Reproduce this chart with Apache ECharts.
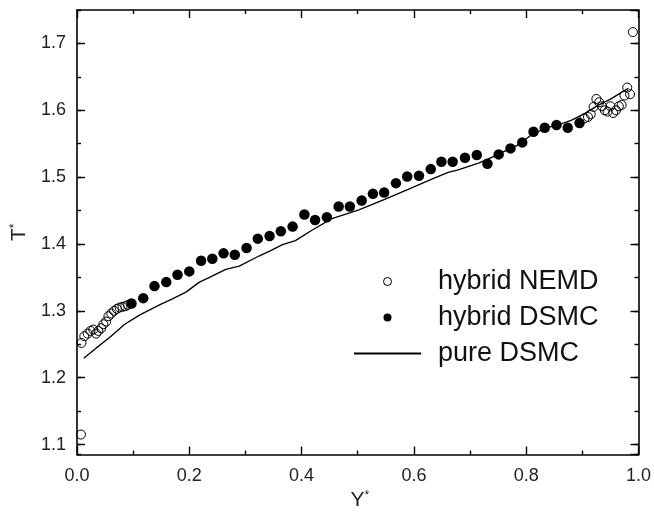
<!DOCTYPE html>
<html>
<head>
<meta charset="utf-8">
<script src="https://cdn.jsdelivr.net/npm/echarts@6/dist/echarts.min.js"></script>
<style>html,body{margin:0;padding:0;background:#fff;}#c{width:654px;height:516px;}</style>
</head>
<body>
<div id="c"></div>
<script>
// ---- data ----
var nemdX = [0.007,0.008,0.013,0.019,0.024,0.029,0.034,0.038,0.043,0.047,0.052,0.056,0.061,0.066,0.071,0.076,0.081,0.086,0.091,
             0.904,0.910,0.915,0.920,0.925,0.930,0.935,0.940,0.945,0.950,0.955,0.960,0.965,0.970,0.975,0.980,0.985,0.990];
var nemdT = [1.115,1.252,1.262,1.266,1.270,1.272,1.266,1.270,1.274,1.280,1.284,1.292,1.296,1.300,1.303,1.305,1.306,1.307,1.309,
             1.588,1.590,1.594,1.605,1.617,1.612,1.606,1.600,1.598,1.606,1.596,1.600,1.606,1.608,1.622,1.634,1.624,1.717];
var dsmcX = [0.097,0.118,0.138,0.159,0.179,0.200,0.221,0.241,0.261,0.281,0.302,0.322,0.343,0.363,0.384,0.405,0.424,0.445,0.466,0.486,
             0.507,0.527,0.547,0.568,0.588,0.609,0.630,0.649,0.669,0.691,0.712,0.731,0.751,0.772,0.793,0.813,0.833,0.854,0.874,0.895];
var dsmcT = [1.311,1.319,1.337,1.343,1.354,1.359,1.375,1.378,1.386,1.384,1.394,1.408,1.412,1.419,1.426,1.444,1.436,1.440,1.456,1.456,
             1.465,1.475,1.477,1.491,1.501,1.502,1.512,1.523,1.523,1.529,1.533,1.520,1.534,1.543,1.552,1.568,1.574,1.578,1.574,1.581];
var pureX = [0.012,0.035,0.058,0.085,0.112,0.147,0.170,0.194,0.218,0.236,0.265,0.289,0.324,0.345,0.366,0.389,0.419,0.454,0.502,0.549,
             0.596,0.632,0.661,0.679,0.715,0.732,0.762,0.785,0.809,0.833,0.856,0.880,0.904,0.927,0.951,0.974,0.982];
var pureT = [1.229,1.245,1.260,1.280,1.294,1.309,1.318,1.328,1.343,1.350,1.362,1.367,1.382,1.390,1.399,1.405,1.421,1.438,1.451,1.467,
             1.484,1.497,1.507,1.511,1.521,1.527,1.539,1.548,1.563,1.573,1.578,1.585,1.595,1.607,1.617,1.629,1.633];
var seriesNames = ['hybrid NEMD', 'hybrid DSMC', 'pure DSMC'];
var xTicks = [0, 1, 0.2];        // min, max, interval
var yRange = [1.085, 1.75];

function zip(a, b) { return a.map(function (v, i) { return [v, b[i]]; }); }

var FONT = 'Liberation Sans, Arial, sans-serif';
var INK = '#000';
var axisLine = { show: true, lineStyle: { color: INK, width: 1.6 } };

function yAx(pos, major, labels) {
  return {
    type: 'value', position: pos, min: yRange[0], max: yRange[1],
    splitNumber: major ? 7 : 13,
    axisLine: major ? axisLine : { show: false },
    axisTick: { show: true, inside: true, length: major ? 8 : 4, lineStyle: { color: INK, width: 1.4 } },
    axisLabel: labels ? {
      show: true, showMinLabel: false, showMaxLabel: false, margin: 11,
      fontSize: 18, fontFamily: FONT, color: '#222',
      formatter: function (v) { return v.toFixed(1); }
    } : { show: false },
    splitLine: { show: false }
  };
}
function xAx(pos, labels) {
  return {
    type: 'value', position: pos, min: xTicks[0], max: xTicks[1], interval: xTicks[2],
    axisLine: axisLine,
    axisTick: { show: true, inside: true, length: 8, lineStyle: { color: INK, width: 1.4 } },
    minorTick: { show: true, splitNumber: 2, length: 4, lineStyle: { color: INK, width: 1.4 } },
    axisLabel: labels ? {
      show: true, margin: 12, fontSize: 18, fontFamily: FONT, color: '#222',
      formatter: function (v) { return v.toFixed(1); }
    } : { show: false },
    splitLine: { show: false }
  };
}

var xb = xAx('bottom', true);
xb.name = '{a|Y}{s|*}';
xb.nameLocation = 'middle';
xb.nameGap = 32;
xb.nameTextStyle = { rich: {
  a: { fontSize: 21, fontFamily: FONT, color: '#222', lineHeight: 22, padding: [0, 0, 0, 4] },
  s: { fontSize: 12, fontFamily: FONT, color: '#222', lineHeight: 12, verticalAlign: 'top' }
} };
var xt = xAx('top', false);

var yl = yAx('left', true, true);
yl.name = '{a|T}{s|*}';
yl.nameLocation = 'middle';
yl.nameGap = 42;
yl.nameTextStyle = { rich: {
  a: { fontSize: 21, fontFamily: FONT, color: '#222', lineHeight: 22 },
  s: { fontSize: 12, fontFamily: FONT, color: '#222', lineHeight: 12, verticalAlign: 'top' }
} };

var chart = echarts.init(document.getElementById('c'), null, { renderer: 'canvas' });
chart.setOption({
  backgroundColor: '#fff',
  animation: false,
  grid: { left: 77, right: 13, top: 10, bottom: 53, containLabel: false },
  legend: {
    orient: 'vertical', left: 353, top: 268, padding: 0,
    itemWidth: 67, itemHeight: 8, itemGap: 9,
    data: [{ name: seriesNames[0], itemStyle: { borderWidth: 1 } }, seriesNames[1],
           { name: seriesNames[2], itemStyle: { opacity: 0 } }],
    textStyle: { fontSize: 27, lineHeight: 27, fontFamily: FONT, color: '#111', padding: [0, 0, 0, 12] }
  },
  xAxis: [xb, xt],
  yAxis: [yl, yAx('left', false, false), yAx('right', true, false), yAx('right', false, false)],
  series: [
    { name: seriesNames[0], type: 'scatter', xAxisIndex: 0, yAxisIndex: 0, symbol: 'circle', symbolSize: 9,
      itemStyle: { color: 'rgba(255,255,255,0)', borderColor: INK, borderWidth: 1, opacity: 1 },
      data: zip(nemdX, nemdT), z: 3 },
    { name: seriesNames[1], type: 'scatter', xAxisIndex: 0, yAxisIndex: 0, symbol: 'circle', symbolSize: 10.5,
      itemStyle: { color: INK, opacity: 1 },
      data: zip(dsmcX, dsmcT), z: 3 },
    { name: seriesNames[2], type: 'line', xAxisIndex: 0, yAxisIndex: 0, symbol: 'none', showSymbol: false,
      lineStyle: { color: INK, width: 1.3 }, itemStyle: { color: INK },
      data: zip(pureX, pureT), z: 2 }
  ]
});
</script>
</body>
</html>
